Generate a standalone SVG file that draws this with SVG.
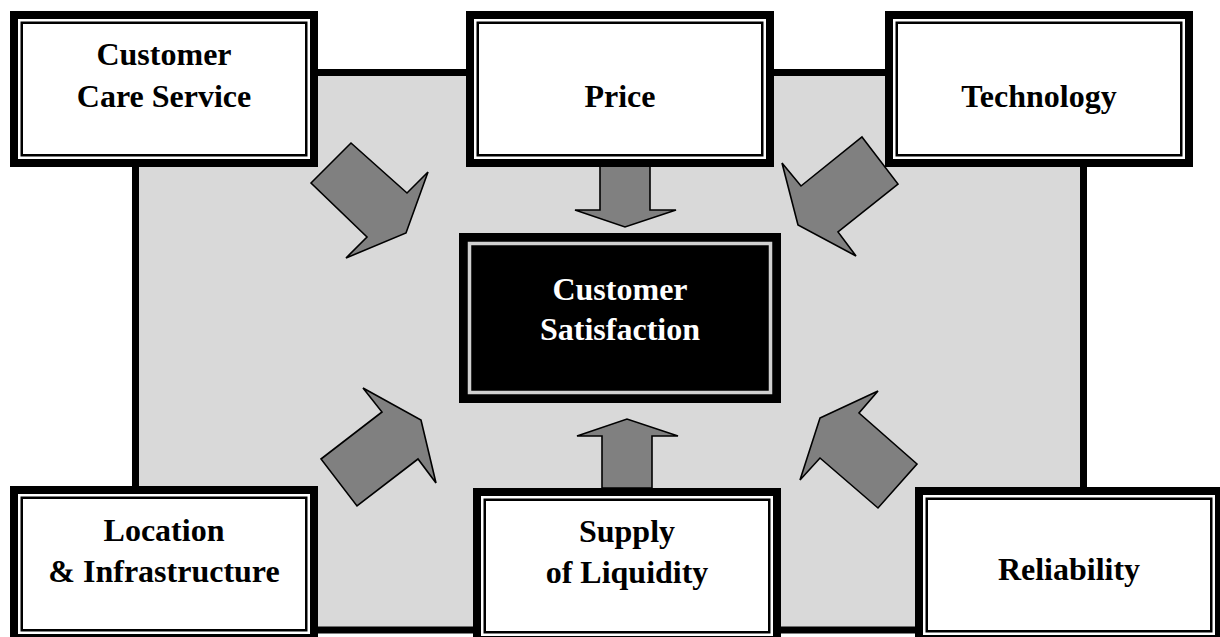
<svg xmlns="http://www.w3.org/2000/svg" width="1220" height="637" viewBox="0 0 1220 637">
<style>
.frame{fill:#ffffff;stroke:#000000;stroke-width:8}
.thin{fill:none;stroke:#000000;stroke-width:2.5}
.lbl{font-family:"Liberation Serif","Times New Roman",serif;font-weight:bold;font-size:32px;fill:#000000;text-anchor:middle}
.arrow{fill:#808080;stroke:#000000;stroke-width:1.6;stroke-linejoin:miter}
</style>
<rect x="0" y="0" width="1220" height="637" fill="#ffffff"/>
<rect id="background" x="135.5" y="72.5" width="948" height="557.5" fill="#d9d9d9" stroke="#000000" stroke-width="7"/>
<g id="connectors">
<polygon class="arrow" points="600,160 650,160 650,210 676,210 625,227 575,210 600,210"/>
<polygon class="arrow" points="602,488 652,488 652,436 678,436 627,419 577,436 602,436"/>
<polygon class="arrow" points="311,183 351,143 407,193 428,172 406,233 346,258 367,237"/>
<polygon class="arrow" points="862,137 898,184 838,232 856,256 798,225 782,163 801,186"/>
<polygon class="arrow" points="321,459 382,412 363,388 421,420 436,483 418,459 357,506"/>
<polygon class="arrow" points="820,418 878,391 859,413 917,464 878,508 820,458 800,480"/>
</g>
<g id="customer-care">
<rect class="frame" x="14" y="15" width="300" height="148"/>
<rect class="thin" x="21.75" y="22.75" width="284.5" height="132.5"/>
<text class="lbl" x="164" y="65">Customer</text>
<text class="lbl" x="164" y="107">Care Service</text>
</g>
<g id="price">
<rect class="frame" x="470" y="15" width="300" height="148"/>
<rect class="thin" x="477.75" y="22.75" width="284.5" height="132.5"/>
<text class="lbl" x="620" y="107">Price</text>
</g>
<g id="technology">
<rect class="frame" x="889" y="15" width="300" height="148"/>
<rect class="thin" x="896.75" y="22.75" width="284.5" height="132.5"/>
<text class="lbl" x="1039" y="107">Technology</text>
</g>
<g id="location">
<rect class="frame" x="14" y="490" width="300" height="148"/>
<rect class="thin" x="21.75" y="497.75" width="284.5" height="132.5"/>
<text class="lbl" x="164" y="541">Location</text>
<text class="lbl" x="164" y="582">&amp; Infrastructure</text>
</g>
<g id="supply">
<rect class="frame" x="477" y="492" width="300" height="148"/>
<rect class="thin" x="484.75" y="499.75" width="284.5" height="132.5"/>
<text class="lbl" x="627" y="542">Supply</text>
<text class="lbl" x="627" y="583">of Liquidity</text>
</g>
<g id="reliability">
<rect class="frame" x="919" y="491" width="300" height="148"/>
<rect class="thin" x="926.75" y="498.75" width="284.5" height="132.5"/>
<text class="lbl" x="1069" y="580">Reliability</text>
</g>
<g id="customer-satisfaction">
<rect x="459" y="233" width="322" height="170" fill="#000000"/>
<rect x="469.5" y="243.5" width="301" height="149" fill="none" stroke="#d0d0d0" stroke-width="3.5"/>
<text class="lbl" x="620" y="300" fill="#ffffff" style="fill:#ffffff">Customer</text>
<text class="lbl" x="620" y="340" style="fill:#ffffff">Satisfaction</text>
</g>
</svg>
